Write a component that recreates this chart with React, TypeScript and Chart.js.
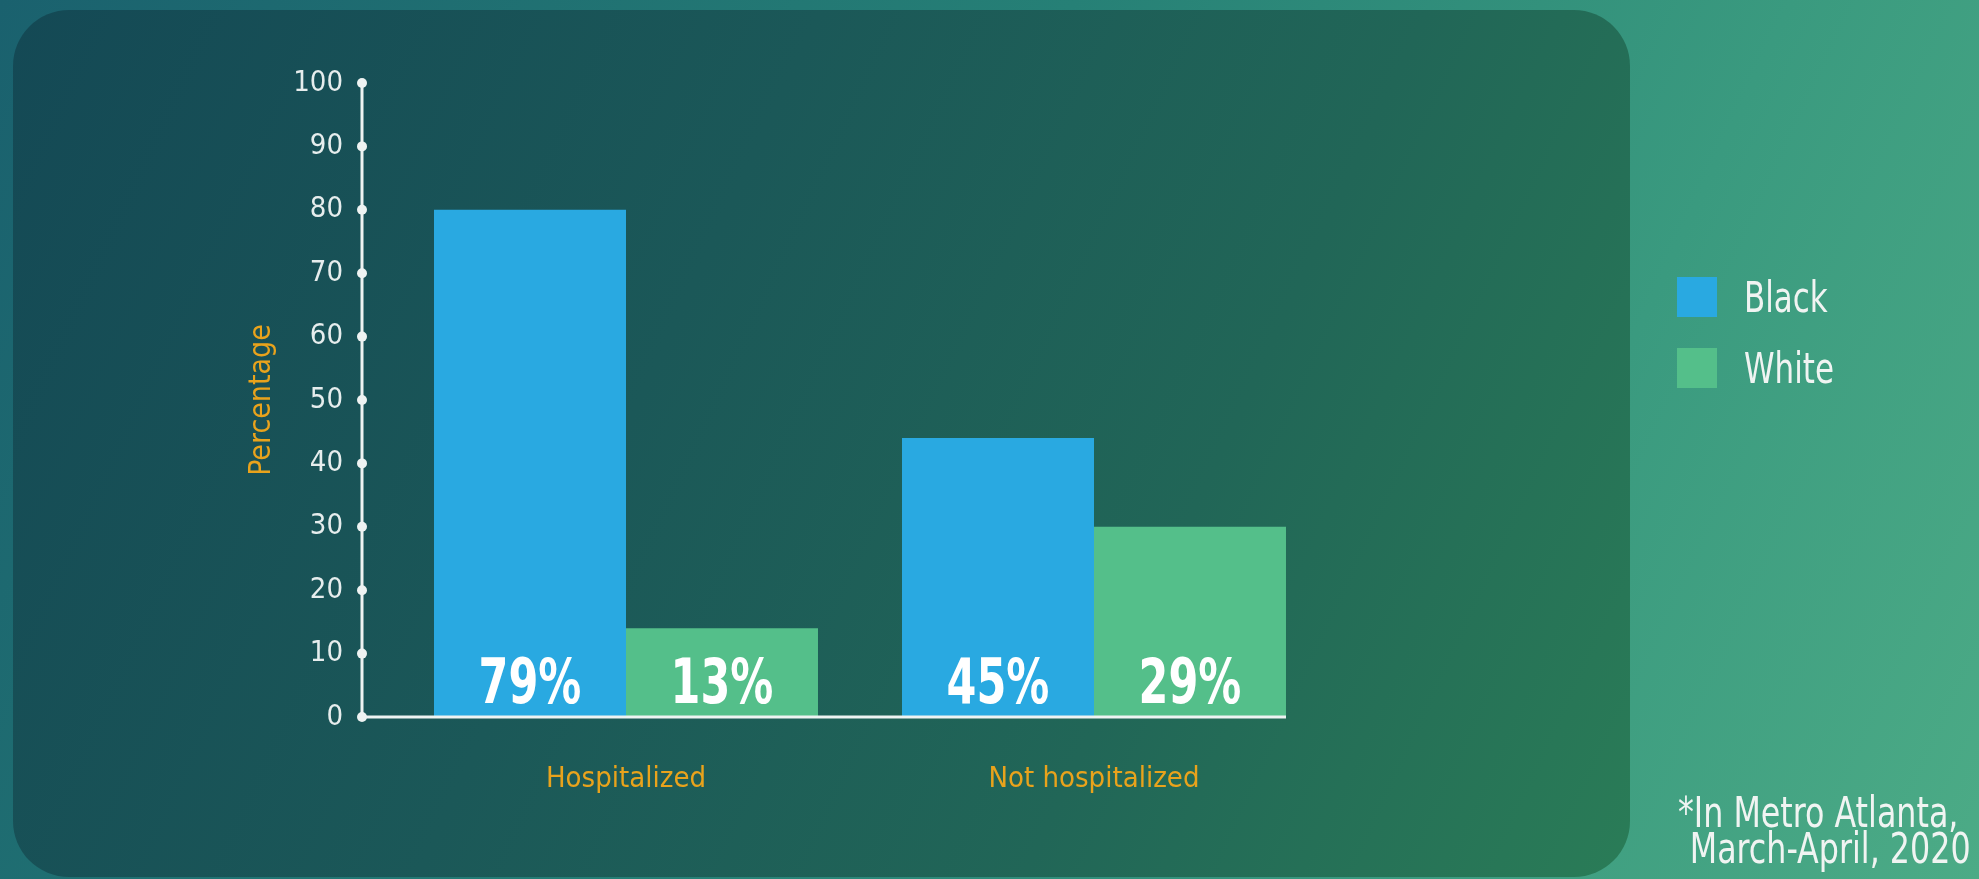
import React, { useEffect, useRef } from "react";
import { Chart, registerables } from "chart.js";

Chart.register(...registerables);

const categories = ["Hospitalized", "Not hospitalized"];
const seriesNames = ["Black", "White"];
const blackValues = [80, 44];
const whiteValues = [14, 30];
const blackLabels = ["79%", "45%"];
const whiteLabels = ["13%", "29%"];
const seriesColors = ["#29a9e1", "#54bf8a"];
const yAxisTitle = "Percentage";
const footnoteLines = ["*In Metro Atlanta,", "March-April, 2020"];

const FONT = '"Liberation Sans Narrow", "DejaVu Sans Condensed", "Roboto", sans-serif';
const ORANGE = "#e9a31c";
const AXIS_WHITE = "#eef3f2";
const AXIS_GAP = 30;

const valueLabels = [blackLabels, whiteLabels];

const axisPlugin = {
  id: "customAxes",
  afterDatasetsDraw(chart: any) {
    const { ctx, chartArea, scales } = chart;
    const y = scales.y;
    const axisX = chartArea.left - AXIS_GAP;
    const y0 = y.getPixelForValue(0);
    const yTop = y.getPixelForValue(y.max);
    const lastMeta = chart.getDatasetMeta(chart.data.datasets.length - 1);
    const lastBar = lastMeta.data[lastMeta.data.length - 1];
    const rightX = lastBar.x + lastBar.width / 2;
    ctx.save();
    ctx.strokeStyle = AXIS_WHITE;
    ctx.fillStyle = AXIS_WHITE;
    ctx.lineWidth = 3;
    ctx.beginPath();
    ctx.moveTo(axisX, yTop);
    ctx.lineTo(axisX, y0);
    ctx.stroke();
    ctx.beginPath();
    ctx.moveTo(axisX, y0);
    ctx.lineTo(rightX, y0);
    ctx.stroke();
    y.ticks.forEach((t: any) => {
      ctx.beginPath();
      ctx.arc(axisX, y.getPixelForValue(t.value), 5, 0, Math.PI * 2);
      ctx.fill();
    });
    // value labels
    ctx.fillStyle = "#ffffff";
    ctx.font = `bold 62px ${FONT}`;
    ctx.textAlign = "center";
    ctx.textBaseline = "alphabetic";
    chart.data.datasets.forEach((_ds: any, i: number) => {
      const meta = chart.getDatasetMeta(i);
      meta.data.forEach((bar: any, j: number) => {
        ctx.save();
        ctx.translate(bar.x, y0 - 14);
        ctx.scale(0.77, 1);
        ctx.fillText(valueLabels[i][j], 0, 0);
        ctx.restore();
      });
    });
    ctx.restore();
  },
};

export default function App() {
  const canvasRef = useRef<HTMLCanvasElement | null>(null);

  useEffect(() => {
    const canvas = canvasRef.current;
    if (!canvas) return;
    const chart = new Chart(canvas, {
      type: "bar",
      data: {
        labels: categories,
        datasets: [
          {
            label: seriesNames[0],
            data: blackValues,
            backgroundColor: seriesColors[0],
            borderWidth: 0,
            categoryPercentage: 0.8205,
            barPercentage: 1,
          },
          {
            label: seriesNames[1],
            data: whiteValues,
            backgroundColor: seriesColors[1],
            borderWidth: 0,
            categoryPercentage: 0.8205,
            barPercentage: 1,
          },
        ],
      },
      options: {
        animation: false,
        responsive: false,
        devicePixelRatio: 1,
        layout: { padding: { left: 232, right: 651, top: 83, bottom: 62 } },
        plugins: {
          legend: { display: false },
          tooltip: { enabled: false },
        },
        scales: {
          x: {
            type: "category",
            grid: { display: false, drawTicks: false },
            border: { display: false },
            ticks: {
              color: ORANGE,
              font: { family: FONT, size: 29 },
              padding: 45,
            },
            afterFit: (s: any) => {
              s.height = 100;
            },
          },
          y: {
            min: 0,
            max: 100,
            grid: { display: false, drawTicks: false },
            border: { display: false },
            ticks: {
              stepSize: 10,
              color: "#e6eded",
              font: { family: FONT, size: 29 },
              padding: 49,
            },
            title: {
              display: true,
              text: yAxisTitle,
              color: ORANGE,
              font: { family: FONT, size: 30 },
              padding: { top: 12, bottom: 0 },
            },
            afterFit: (s: any) => {
              s.width = 160;
            },
          },
        },
      } as any,
      plugins: [axisPlugin],
    });
    return () => chart.destroy();
  }, []);

  return (
    <div
      style={{
        position: "fixed",
        left: 0,
        top: 0,
        width: 1979,
        height: 879,
        overflow: "hidden",
        background: "linear-gradient(115deg, #1a616e 0%, #268076 45%, #3a9a7f 75%, #4cab86 100%)",
        fontFamily: FONT,
      }}
    >
      <div
        style={{
          position: "absolute",
          left: 13,
          top: 10,
          width: 1617,
          height: 867,
          borderRadius: 56,
          background: "linear-gradient(115deg, #144955 0%, #1b5858 40%, #216657 70%, #2a7c57 100%)",
        }}
      />
      <canvas
        ref={canvasRef}
        width={1979}
        height={879}
        style={{ position: "absolute", left: 0, top: 0, width: 1979, height: 879 }}
      />
      <div style={{ position: "absolute", left: 1677, top: 277 }}>
        {seriesNames.map((name, i) => (
          <div
            key={name}
            style={{ display: "flex", alignItems: "center", height: 40, marginBottom: 31 }}
          >
            <div style={{ width: 40, height: 40, background: seriesColors[i] }} />
            <span
              style={{
                marginLeft: 27,
                color: "#f0f4f2",
                fontSize: 43,
                lineHeight: "40px",
                display: "inline-block",
                transform: "scaleX(0.8)",
                transformOrigin: "left center",
              }}
            >
              {name}
            </span>
          </div>
        ))}
      </div>
      <div
        style={{
          position: "absolute",
          left: 1678,
          top: 795,
          color: "#f0f4f2",
          fontSize: 42,
          lineHeight: "36px",
          whiteSpace: "nowrap",
          transform: "scaleX(0.84)",
          transformOrigin: "left top",
        }}
      >
        <div>{footnoteLines[0]}</div>
        <div style={{ paddingLeft: 14 }}>{footnoteLines[1]}</div>
      </div>
    </div>
  );
}
